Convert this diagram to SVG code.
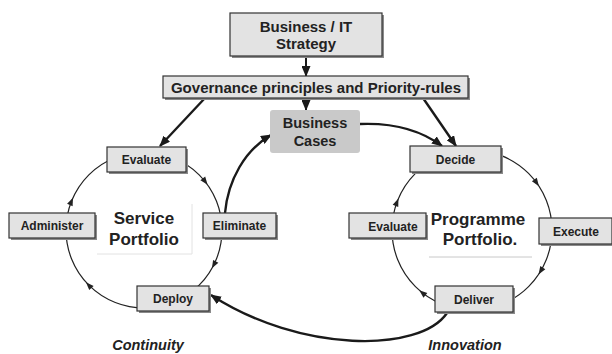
<svg xmlns="http://www.w3.org/2000/svg" xmlns:xlink="http://www.w3.org/1999/xlink" width="612" height="354" viewBox="0 0 612 354">
<style>
.box{fill:#e3e3e3;stroke:#333;stroke-width:1.2}
.sh{fill:#8a8a8a}
.lbl{font-family:"Liberation Sans",Arial,sans-serif;font-weight:bold;fill:#222;text-anchor:middle}
.s12{font-size:12px}
.s15{font-size:15px}
.s17{font-size:17px}
.ring{fill:none;stroke:#222;stroke-width:1.2}
.thick{fill:none;stroke:#1a1a1a;stroke-width:2.4}
.ital{font-style:italic;font-size:14.5px}
</style>
<defs>
<marker id="arr" markerUnits="userSpaceOnUse" markerWidth="11" markerHeight="9" refX="10" refY="4.5" orient="auto">
<path d="M0,0 L11,4.5 L0,9 z" fill="#1a1a1a"/>
</marker>
<polygon id="ah" points="2,0 -6,-3 -6,3" fill="#222"/>
</defs>

<g id="connectors">
<circle class="ring" cx="144" cy="230" r="78"/>
<circle class="ring" cx="472" cy="230" r="80"/>
<use xlink:href="#ah" transform="translate(206.4,183.2) rotate(53.1)"/>
<use xlink:href="#ah" transform="translate(212.9,266.6) rotate(118)"/>
<use xlink:href="#ah" transform="translate(87.3,283.6) rotate(226.6)"/>
<use xlink:href="#ah" transform="translate(72.2,199.5) rotate(293)"/>
<use xlink:href="#ah" transform="translate(537.8,184.5) rotate(55.3)"/>
<use xlink:href="#ah" transform="translate(539.6,272.7) rotate(122.3)"/>
<use xlink:href="#ah" transform="translate(420.8,291.5) rotate(219.8)"/>
<use xlink:href="#ah" transform="translate(397.7,200.3) rotate(291.8)"/>
<path class="thick" d="M306,57 L306,76" marker-end="url(#arr)" style="stroke-width:2"/>
<path class="thick" d="M205,98 L160,146" marker-end="url(#arr)"/>
<path class="thick" d="M306,98 L306,110" marker-end="url(#arr)" style="stroke-width:2"/>
<path class="thick" d="M423,98 L456,146" marker-end="url(#arr)"/>
<path class="thick" d="M360,124 Q410,122 442,146" marker-end="url(#arr)"/>
<path class="thick" d="M225,213 C228,180 245,150 271,135" marker-end="url(#arr)"/>
<path class="thick" d="M447,313 C420,353 300,353 211,295" marker-end="url(#arr)"/>
</g>

<g id="strategy">
<rect class="sh" x="232" y="15" width="152" height="43"/>
<rect class="box" x="230" y="13" width="152" height="43"/>
<text class="lbl s15" x="306" y="32">Business / IT</text>
<text class="lbl s15" x="306" y="49">Strategy</text>
</g>

<g id="governance">
<rect class="sh" x="165" y="78" width="305" height="22"/>
<rect class="box" x="163" y="76" width="305" height="22"/>
<text class="lbl s15" x="316" y="93">Governance principles and Priority-rules</text>
</g>

<g id="business-cases">
<rect x="270" y="110" width="90" height="43" rx="3" fill="#c9c9c9"/>
<text class="lbl" style="font-size:14.5px" x="315" y="128">Business</text>
<text class="lbl" style="font-size:14.5px" x="315" y="146">Cases</text>
</g>

<g id="evaluate-left">
<rect class="sh" x="109" y="149" width="79" height="25"/>
<rect class="box" x="107" y="147" width="79" height="25"/>
<text class="lbl s12" x="146.5" y="164">Evaluate</text>
</g>

<g id="administer">
<rect class="sh" x="11" y="215" width="86" height="25"/>
<rect class="box" x="9" y="213" width="86" height="25"/>
<text class="lbl s12" x="52" y="230">Administer</text>
</g>

<g id="eliminate">
<rect class="sh" x="205" y="215" width="73" height="25"/>
<rect class="box" x="203" y="213" width="73" height="25"/>
<text class="lbl s12" x="239.5" y="230">Eliminate</text>
</g>

<g id="deploy">
<rect class="sh" x="139" y="288" width="72" height="25"/>
<rect class="box" x="137" y="286" width="72" height="25"/>
<text class="lbl s12" x="173" y="303">Deploy</text>
</g>

<g id="service-portfolio">
<rect x="97" y="204" width="95" height="50" fill="#fff"/>
<path d="M192,204 L192,254 L97,254" fill="none" stroke="#e2e2e2" stroke-width="1"/>
<text class="lbl s17" x="144" y="224">Service</text>
<text class="lbl s17" x="144" y="245">Portfolio</text>
</g>

<g id="decide">
<rect class="sh" x="412" y="148" width="91" height="26"/>
<rect class="box" x="410" y="146" width="91" height="26"/>
<text class="lbl s12" x="455.5" y="164">Decide</text>
</g>

<g id="execute">
<rect class="sh" x="541" y="220" width="73" height="26"/>
<rect class="box" x="539" y="218" width="73" height="26"/>
<text class="lbl s12" x="576" y="235.5">Execute</text>
</g>

<g id="evaluate-right">
<rect class="sh" x="351" y="215" width="77" height="25"/>
<rect class="box" x="349" y="213" width="77" height="25"/>
<text class="lbl s12" x="393" y="231">Evaluate</text>
</g>

<g id="deliver">
<rect class="sh" x="437" y="288" width="78" height="26"/>
<rect class="box" x="435" y="286" width="78" height="26"/>
<text class="lbl s12" x="474" y="304">Deliver</text>
</g>

<g id="programme-portfolio">
<text class="lbl s17" x="478" y="225">Programme</text>
<text class="lbl s17" x="480" y="245">Portfolio.</text>
<line x1="429" y1="257" x2="532" y2="257" stroke="#c8c8c8" stroke-width="1"/>
</g>

<g id="captions">
<text class="lbl ital" x="148" y="350">Continuity</text>
<text class="lbl ital" x="465" y="350">Innovation</text>
</g>
</svg>
